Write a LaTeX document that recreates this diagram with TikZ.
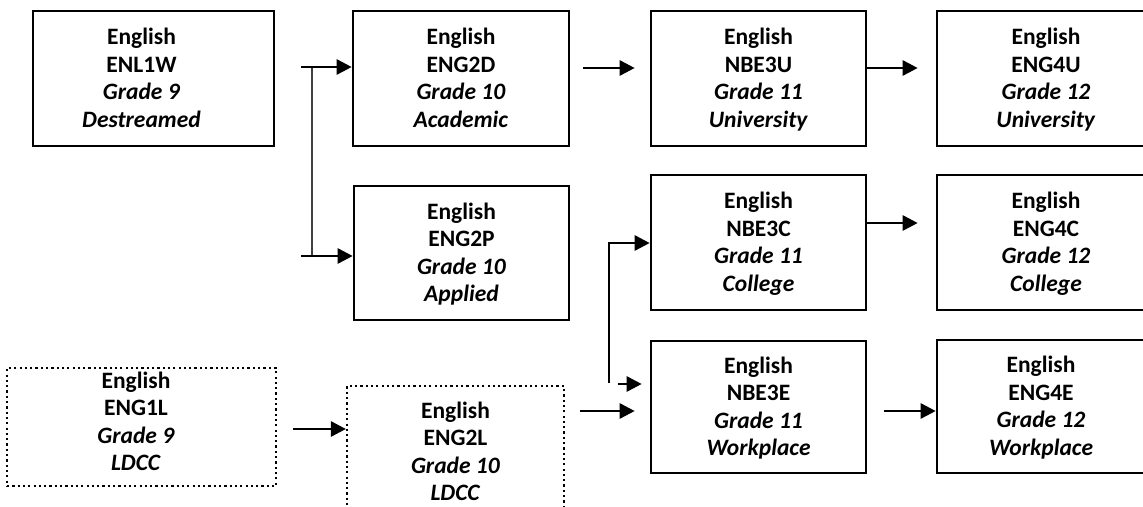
\documentclass[tikz,border=0pt]{standalone}
\usepackage{fontspec}
\setmainfont{Carlito}
\usetikzlibrary{arrows.meta}
\newcommand{\crs}[4][-2pt]{\raisebox{#1}[\height][\depth]{\begin{tabular}{@{}c@{}}English\\#2\\\textit{#3}\\\textit{#4}\end{tabular}}}

\begin{document}
\begin{tikzpicture}[x=1pt,y=-1pt,
  box/.style={draw, line width=2.6pt, inner sep=0pt, font=\fontsize{23.5}{27.5}\selectfont\bfseries},
  ldcc/.style={box, line width=2.2pt, dash pattern=on 2.2pt off 3.1pt},
  arr/.style={line width=2.7pt, -{Triangle[length=15pt,width=15pt]}},
  link/.style={line width=1.8pt, black!75}]
\useasboundingbox (0,0) rectangle (1143,506);
% grade 9
\node[box, minimum width=241pt, minimum height=135pt] (w1) at (153.5,78.5) {\hspace*{-24pt}\crs{ENL1W}{Grade 9}{Destreamed}};
\node[ldcc, minimum width=269pt, minimum height=118pt] (l1) at (141.5,427) {\hspace*{-11pt}\crs[3pt]{ENG1L}{Grade 9}{LDCC}};
% grade 10
\node[box, minimum width=216pt, minimum height=135pt] (d2) at (461,78.5) {\crs{ENG2D}{Grade 10}{Academic}};
\node[box, minimum width=215pt, minimum height=134pt] (p2) at (461.5,253) {\crs{ENG2P}{Grade 10}{Applied}};
\node[ldcc, minimum width=217pt, minimum height=138pt] (l2) at (455.5,455) {\crs[1pt]{ENG2L}{Grade 10}{LDCC}};
% grade 11
\node[box, minimum width=215pt, minimum height=135pt] (u3) at (758.5,78.5) {\crs{NBE3U}{Grade 11}{University}};
\node[box, minimum width=215pt, minimum height=135pt] (c3) at (758.5,242.5) {\crs{NBE3C}{Grade 11}{College}};
\node[box, minimum width=215pt, minimum height=132pt] (e3) at (758.5,407) {\crs{NBE3E}{Grade 11}{Workplace}};
% grade 12
\node[box, minimum width=218pt, minimum height=135pt] (u4) at (1046,78.5) {\crs{ENG4U}{Grade 12}{University}};
\node[box, minimum width=218pt, minimum height=135pt] (c4) at (1046,242.5) {\crs{ENG4C}{Grade 12}{College}};
\node[box, minimum width=218pt, minimum height=133pt] (e4) at (1046,406.5) {\hspace*{-10pt}\crs{ENG4E}{Grade 12}{Workplace}};
% connectors
\coordinate (s1) at (301,67);
\coordinate (s2) at (301,256);
\coordinate (t1) at (312,67);
\coordinate (t2) at (312,256);
\draw[link] (t1) -- (t2);
\draw[arr] (s1) -- (s1 -| d2.west);
\draw[arr] (s2) -- (s2 -| p2.west);
\coordinate (a1) at (583,68);
\draw[arr, shorten >=15pt] (a1) -- (a1 -| u3.west);
\draw[arr, shorten >=18pt] (a1 -| u3.east) -- (a1 -| u4.west);
\coordinate (a2) at (0,223);
\draw[arr, shorten >=18pt] (a2 -| c3.east) -- (a2 -| c4.west);
\coordinate (a3) at (884,411);
\draw[arr] (a3) -- (a3 -| e4.west);
\coordinate (a4) at (293,429);
\draw[arr] (a4) -- (a4 -| l2.west);
\coordinate (r1) at (609,243);
\coordinate (r2) at (609,383);
\draw[arr] (r2) -- (r1) -- (r1 -| c3.west);
\coordinate (r3) at (618,384);
\draw[arr, shorten >=8pt] (r3) -- (r3 -| e3.west);
\coordinate (a5) at (580,411);
\draw[arr, shorten >=15pt] (a5) -- (a5 -| e3.west);
\end{tikzpicture}
\end{document}
